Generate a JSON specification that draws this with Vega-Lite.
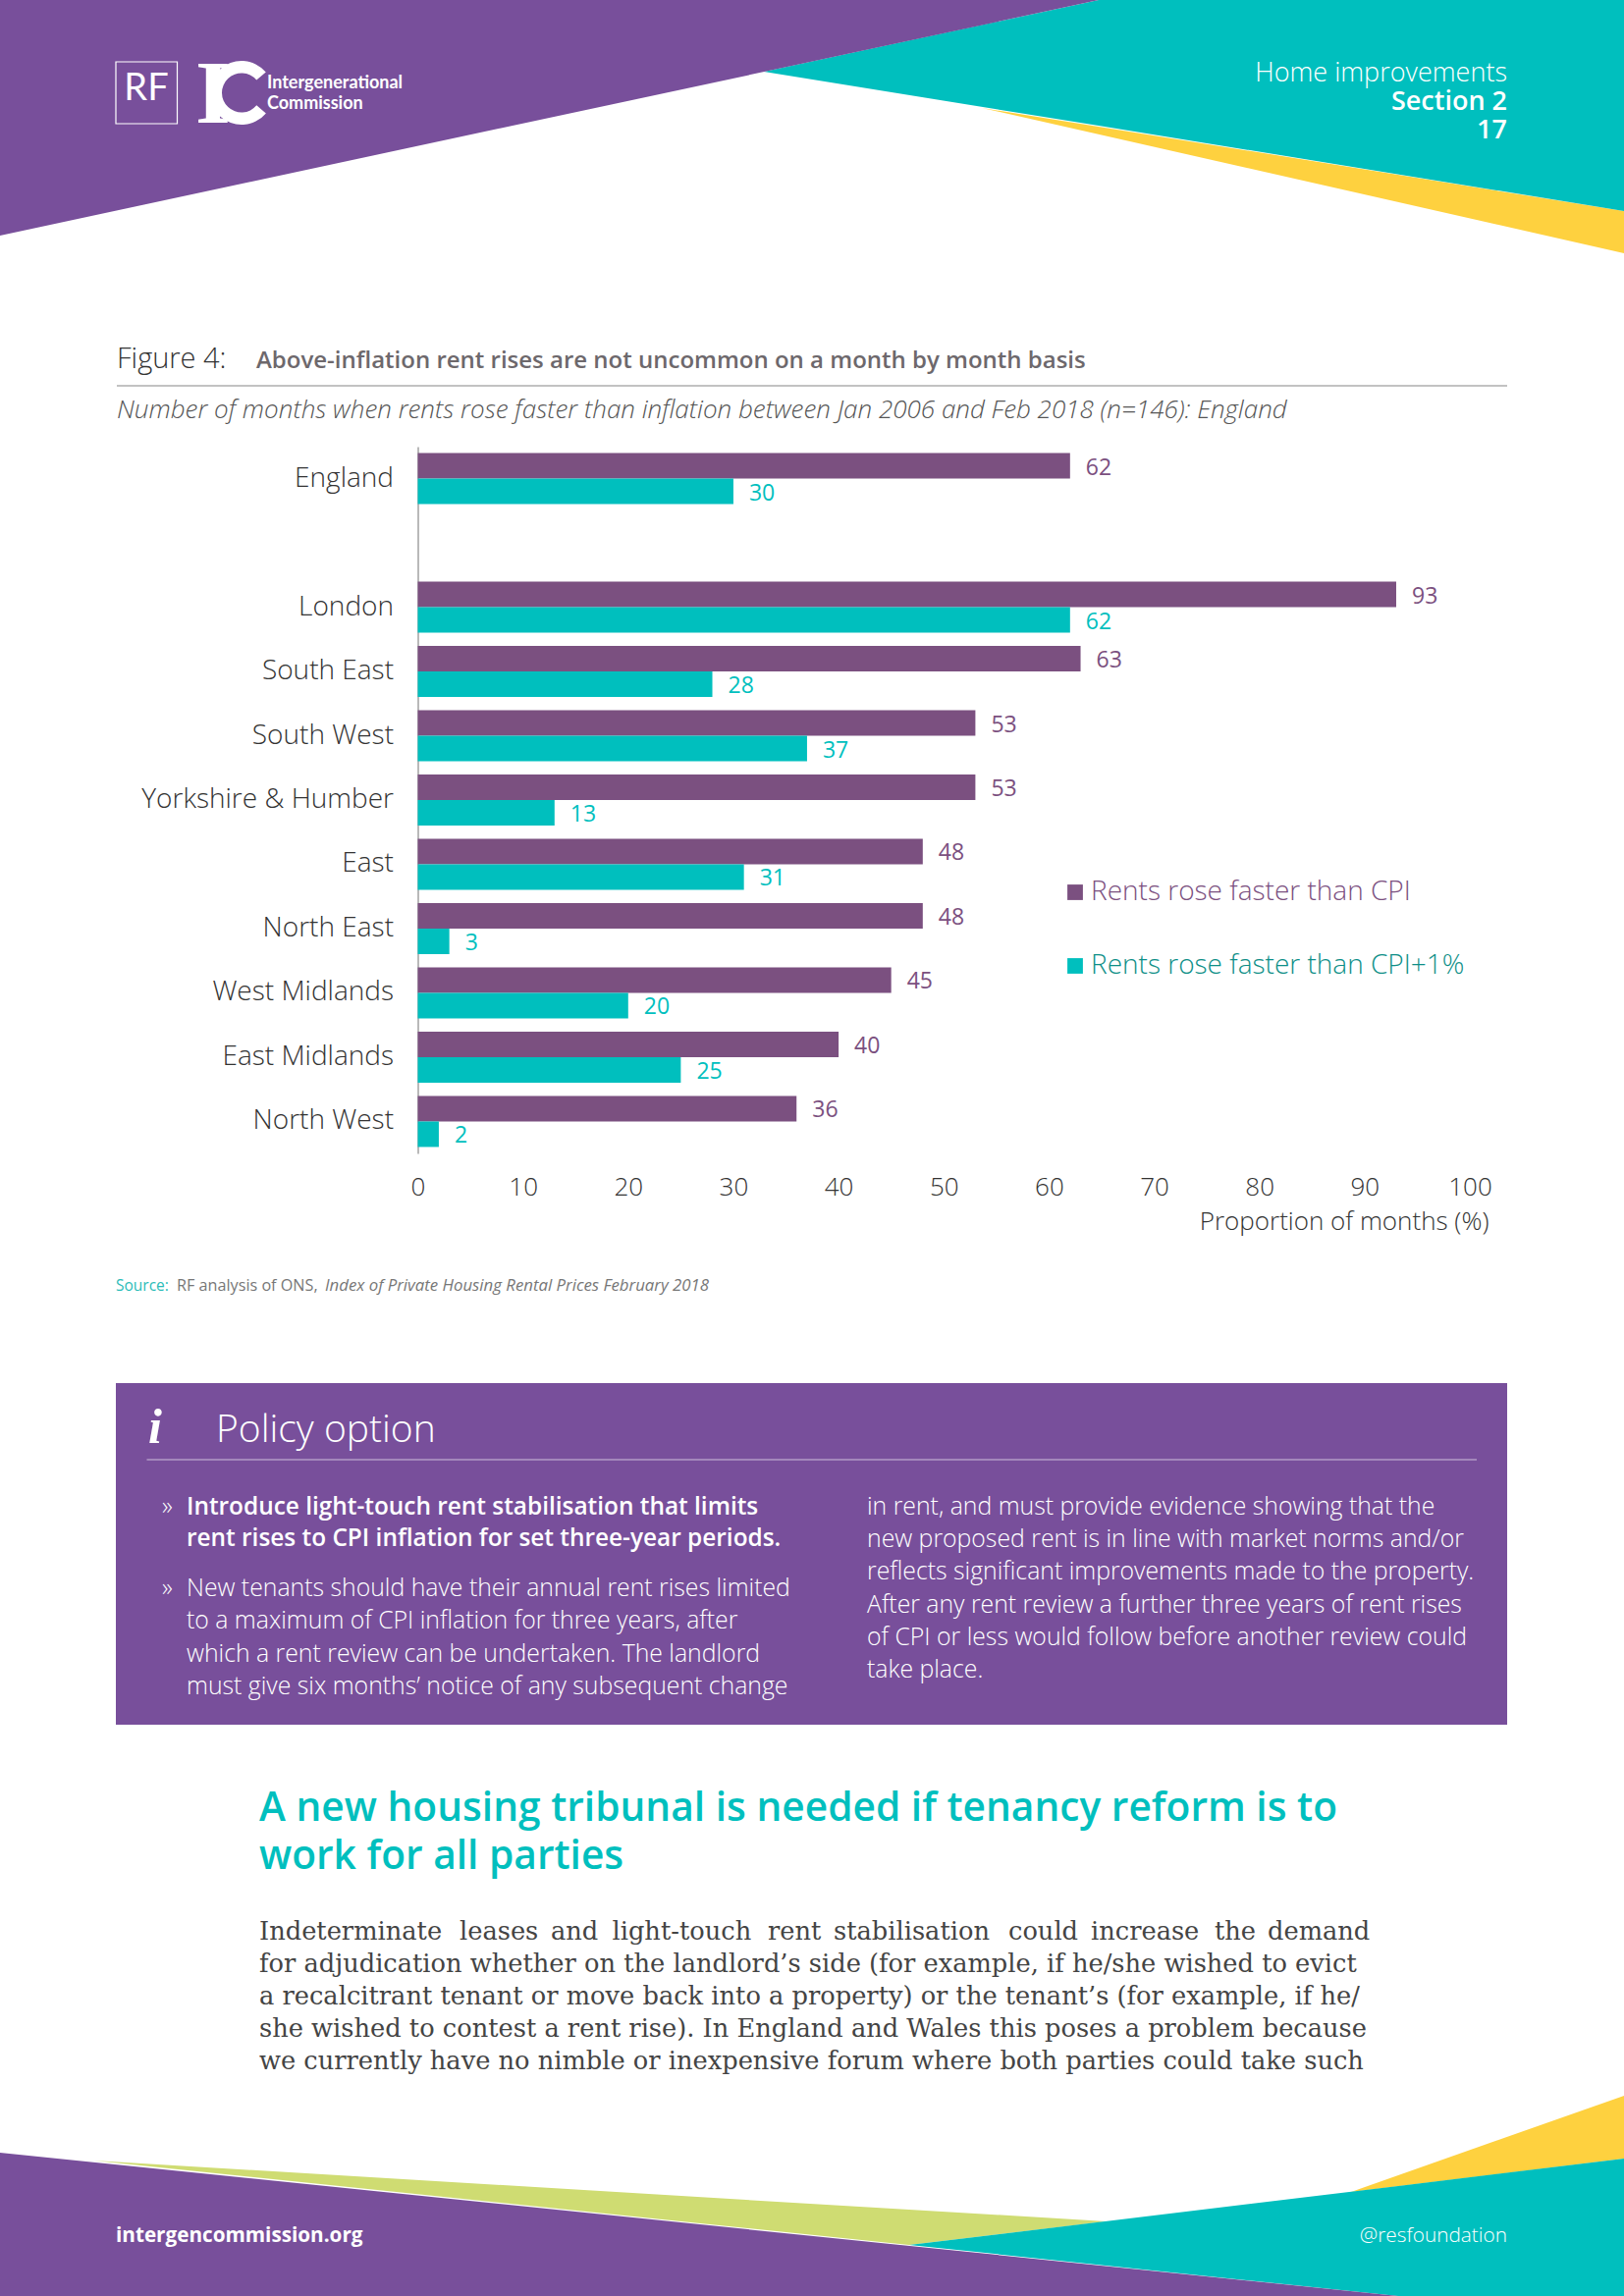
{
"$schema":"https://vega.github.io/schema/vega-lite/v6.json",
"width":1654,"height":2339,"padding":0,"autosize":{"type":"none"},
"background":"#ffffff",
"config":{"view":{"stroke":null}},
"resolve":{"scale":{"x":"independent","y":"independent","color":"independent"},"axis":{"x":"independent","y":"independent"}},
"layer":[
{"encoding":{
 "x":{"field":"px","type":"quantitative","scale":{"domain":[0,1654],"range":[0,1654],"nice":false,"zero":false},"axis":null},
 "y":{"field":"py","type":"quantitative","scale":{"domain":[0,2339],"range":[0,2339],"nice":false,"zero":false},"axis":null}},
 "layer":[
 {"data":{"values":[{"px":1000,"py":110,"py2":110},{"px":1654,"py":215,"py2":258}]},"mark":{"type":"area","color":"#fed13f"},"encoding":{"y2":{"field":"py2"}}},
 {"data":{"values":[{"px":778,"py":73,"py2":73},{"px":1119,"py":0,"py2":128},{"px":1654,"py":0,"py2":215}]},"mark":{"type":"area","color":"#00bfbe"},"encoding":{"y2":{"field":"py2"}}},
 {"data":{"values":[{"px":0,"py":0,"py2":240},{"px":1119,"py":0,"py2":0}]},"mark":{"type":"area","color":"#784f9b"},"encoding":{"y2":{"field":"py2"}}},
 {"data":{"values":[{"px":95,"py":2201,"py2":2201},{"px":926,"py":2251,"py2":2287},{"px":1127,"py":2263,"py2":2263}]},"mark":{"type":"area","color":"#cfdc72"},"encoding":{"y2":{"field":"py2"}}},
 {"data":{"values":[{"px":1376,"py":2233,"py2":2233},{"px":1654,"py":2135,"py2":2199}]},"mark":{"type":"area","color":"#fed13f"},"encoding":{"y2":{"field":"py2"}}},
 {"data":{"values":[{"px":926,"py":2287,"py2":2287},{"px":1424,"py":2227,"py2":2339},{"px":1654,"py":2199,"py2":2339}]},"mark":{"type":"area","color":"#00bfbe"},"encoding":{"y2":{"field":"py2"}}},
 {"data":{"values":[{"px":0,"py":2193,"py2":2339},{"px":1424,"py":2339,"py2":2339}]},"mark":{"type":"area","color":"#784f9b"},"encoding":{"y2":{"field":"py2"}}},
 {"data":{"values":[{"px":118,"py":1409,"px2":1535,"py2":1757}]},"mark":{"type":"rect","color":"#784f9b"},"encoding":{"x2":{"field":"px2"},"y2":{"field":"py2"}}},
 {"data":{"values":[{"px":118,"py":63,"px2":180.5,"py2":126}]},"mark":{"type":"rect","fill":null,"stroke":"#ffffff","strokeWidth":1.2,"filled":false},"encoding":{"x2":{"field":"px2"},"y2":{"field":"py2"}}},
 {"data":{"values":[{"px":119,"py":393,"px2":1535}]},"mark":{"type":"rule","color":"#aeaeae","strokeWidth":1.5},"encoding":{"x2":{"field":"px2"}}},
 {"data":{"values":[{"px":149.5,"py":1487,"px2":1504}]},"mark":{"type":"rule","color":"#cdbfdc","strokeWidth":1.2},"encoding":{"x2":{"field":"px2"}}},
 {"data":{"values":[{"px":149,"py":102,"t":"RF"}]},"mark":{"type":"text","align":"center","baseline":"alphabetic","font":"Lato","fontSize":38,"fontWeight":400,"color":"#ffffff"},"encoding":{"text":{"field":"t"}}},
 {"data":{"values":[{"px":217,"py":125,"t":"I"}]},"mark":{"type":"text","align":"center","baseline":"alphabetic","font":"Liberation Serif","fontSize":92,"fontWeight":700,"color":"#ffffff"},"encoding":{"text":{"field":"t"}}},
 {"data":{"values":[{"px":246,"py":94.5}]},"mark":{"type":"arc","color":"#ffffff","radius":32.5,"radius2":20,"theta":2.27,"theta2":7.15},"encoding":{}},
 {"data":{"values":[{"px":272,"py":90,"t":"Intergenerational"},{"px":272,"py":111,"t":"Commission"}]},"mark":{"type":"text","align":"left","baseline":"alphabetic","font":"Lato","fontSize":18,"fontWeight":700,"color":"#ffffff"},"encoding":{"text":{"field":"t"}}},
 {"data":{"values":[{"px":1535,"py":83,"t":"Home improvements"}]},"mark":{"type":"text","align":"right","baseline":"alphabetic","font":"Open Sans","fontSize":27,"fontWeight":300,"color":"#ffffff"},"encoding":{"text":{"field":"t"}}},
 {"data":{"values":[{"px":1535,"py":112,"t":"Section 2"},{"px":1535,"py":141,"t":"17"}]},"mark":{"type":"text","align":"right","baseline":"alphabetic","font":"Open Sans","fontSize":27,"fontWeight":600,"color":"#ffffff"},"encoding":{"text":{"field":"t"}}},
 {"data":{"values":[{"px":119,"py":375,"t":"Figure 4:"}]},"mark":{"type":"text","align":"left","baseline":"alphabetic","font":"Open Sans","fontSize":29,"fontWeight":300,"color":"#333333"},"encoding":{"text":{"field":"t"}}},
 {"data":{"values":[{"px":261,"py":375,"t":"Above-inflation rent rises are not uncommon on a month by month basis"}]},"mark":{"type":"text","align":"left","baseline":"alphabetic","font":"Open Sans","fontSize":24,"fontWeight":600,"color":"#6d686c"},"encoding":{"text":{"field":"t"}}},
 {"data":{"values":[{"px":119,"py":426,"t":"Number of months when rents rose faster than inflation between Jan 2006 and Feb 2018 (n=146): England"}]},"mark":{"type":"text","align":"left","baseline":"alphabetic","font":"Open Sans","fontSize":26,"fontWeight":300,"fontStyle":"italic","color":"#555555"},"encoding":{"text":{"field":"t"}}},
 {"data":{"values":[{"px":118,"py":1315,"t":"Source:"}]},"mark":{"type":"text","align":"left","baseline":"alphabetic","font":"Open Sans","fontSize":15.5,"fontWeight":400,"color":"#2bbcb8"},"encoding":{"text":{"field":"t"}}},
 {"data":{"values":[{"px":180,"py":1315,"t":"RF analysis of ONS,"}]},"mark":{"type":"text","align":"left","baseline":"alphabetic","font":"Open Sans","fontSize":16.2,"fontWeight":400,"color":"#777777"},"encoding":{"text":{"field":"t"}}},
 {"data":{"values":[{"px":331,"py":1315,"t":"Index of Private Housing Rental Prices February 2018"}]},"mark":{"type":"text","align":"left","baseline":"alphabetic","font":"Open Sans","fontSize":16.8,"fontWeight":400,"fontStyle":"italic","color":"#777777"},"encoding":{"text":{"field":"t"}}},
 {"data":{"values":[{"px":151,"py":1470,"t":"i"}]},"mark":{"type":"text","align":"left","baseline":"alphabetic","font":"Liberation Serif","fontSize":50,"fontWeight":700,"fontStyle":"italic","color":"#ffffff"},"encoding":{"text":{"field":"t"}}},
 {"data":{"values":[{"px":220,"py":1469,"t":"Policy option"}]},"mark":{"type":"text","align":"left","baseline":"alphabetic","font":"Open Sans","fontSize":39,"fontWeight":300,"color":"#ffffff"},"encoding":{"text":{"field":"t"}}},
 {"data":{"values":[{"px":190,"py":1543,"t":"Introduce light-touch rent stabilisation that limits"},{"px":190,"py":1575,"t":"rent rises to CPI inflation for set three-year periods."}]},"mark":{"type":"text","align":"left","baseline":"alphabetic","font":"Open Sans","fontSize":24.4,"fontWeight":600,"color":"#ffffff"},"encoding":{"text":{"field":"t"}}},
 {"data":{"values":[{"px":165,"py":1543,"t":"»"},{"px":165,"py":1626,"t":"»"},{"px":190,"py":1626,"t":"New tenants should have their annual rent rises limited"},{"px":190,"py":1659,"t":"to a maximum of CPI inflation for three years, after"},{"px":190,"py":1693,"t":"which a rent review can be undertaken. The landlord"},{"px":190,"py":1726,"t":"must give six months’ notice of any subsequent change"},{"px":883,"py":1543,"t":"in rent, and must provide evidence showing that the"},{"px":883,"py":1576,"t":"new proposed rent is in line with market norms and/or"},{"px":883,"py":1609,"t":"reflects significant improvements made to the property."},{"px":883,"py":1643,"t":"After any rent review a further three years of rent rises"},{"px":883,"py":1676,"t":"of CPI or less would follow before another review could"},{"px":883,"py":1709,"t":"take place."}]},"mark":{"type":"text","align":"left","baseline":"alphabetic","font":"Open Sans","fontSize":24.8,"fontWeight":300,"color":"#ffffff"},"encoding":{"text":{"field":"t"}}},
 {"data":{"values":[{"px":264,"py":1855,"t":"A new housing tribunal is needed if tenancy reform is to"},{"px":264,"py":1904,"t":"work for all parties"}]},"mark":{"type":"text","align":"left","baseline":"alphabetic","font":"Open Sans","fontSize":40.7,"fontWeight":600,"color":"#00bfbe"},"encoding":{"text":{"field":"t"}}},
 {"data":{"values":[{"px":264,"py":1976,"t":"Indeterminate"},{"px":468,"py":1976,"t":"leases"},{"px":561,"py":1976,"t":"and"},{"px":623.5,"py":1976,"t":"light-touch"},{"px":782,"py":1976,"t":"rent"},{"px":849,"py":1976,"t":"stabilisation"},{"px":1027,"py":1976,"t":"could"},{"px":1111,"py":1976,"t":"increase"},{"px":1237,"py":1976,"t":"the"},{"px":1291,"py":1976,"t":"demand"},{"px":264,"py":2009,"t":"for adjudication whether on the landlord’s side (for example, if he/she wished to evict"},{"px":264,"py":2042,"t":"a recalcitrant tenant or move back into a property) or the tenant’s (for example, if he/"},{"px":264,"py":2075,"t":"she wished to contest a rent rise). In England and Wales this poses a problem because"},{"px":264,"py":2108,"t":"we currently have no nimble or inexpensive forum where both parties could take such"}]},"mark":{"type":"text","align":"left","baseline":"alphabetic","font":"DejaVu Serif","fontSize":25.7,"color":"#444444"},"encoding":{"text":{"field":"t"}}},
 {"data":{"values":[{"px":118,"py":2284,"t":"intergencommission.org"}]},"mark":{"type":"text","align":"left","baseline":"alphabetic","font":"Open Sans","fontSize":20.7,"fontWeight":700,"color":"#ffffff"},"encoding":{"text":{"field":"t"}}},
 {"data":{"values":[{"px":1535,"py":2284,"t":"@resfoundation"}]},"mark":{"type":"text","align":"right","baseline":"alphabetic","font":"Open Sans","fontSize":20.8,"fontWeight":300,"color":"#ffffff"},"encoding":{"text":{"field":"t"}}}
 ]},
{"data":{"values":[
 {"region":"England","series":"Rents rose faster than CPI","months":62},{"region":"England","series":"Rents rose faster than CPI+1%","months":30},
 {"region":"London","series":"Rents rose faster than CPI","months":93},{"region":"London","series":"Rents rose faster than CPI+1%","months":62},
 {"region":"South East","series":"Rents rose faster than CPI","months":63},{"region":"South East","series":"Rents rose faster than CPI+1%","months":28},
 {"region":"South West","series":"Rents rose faster than CPI","months":53},{"region":"South West","series":"Rents rose faster than CPI+1%","months":37},
 {"region":"Yorkshire & Humber","series":"Rents rose faster than CPI","months":53},{"region":"Yorkshire & Humber","series":"Rents rose faster than CPI+1%","months":13},
 {"region":"East","series":"Rents rose faster than CPI","months":48},{"region":"East","series":"Rents rose faster than CPI+1%","months":31},
 {"region":"North East","series":"Rents rose faster than CPI","months":48},{"region":"North East","series":"Rents rose faster than CPI+1%","months":3},
 {"region":"West Midlands","series":"Rents rose faster than CPI","months":45},{"region":"West Midlands","series":"Rents rose faster than CPI+1%","months":20},
 {"region":"East Midlands","series":"Rents rose faster than CPI","months":40},{"region":"East Midlands","series":"Rents rose faster than CPI+1%","months":25},
 {"region":"North West","series":"Rents rose faster than CPI","months":36},{"region":"North West","series":"Rents rose faster than CPI+1%","months":2}
 ]},
 "encoding":{
 "x":{"field":"months","type":"quantitative","scale":{"domain":[0,100],"range":[425.5,1497],"nice":false},
  "axis":{"orient":"bottom","offset":-1164,"values":[0,10,20,30,40,50,60,70,80,90,100],"grid":false,"domain":false,"ticks":false,"labelFont":"Open Sans","labelFontWeight":300,"labelFontSize":26,"labelColor":"#333333","labelPadding":42,"labelBaseline":"alphabetic","labelFlush":false,"labelOverlap":false,
  "title":"Proportion of months (%)","titleFont":"Open Sans","titleFontWeight":300,"titleFontSize":26,"titleColor":"#333333","titleAlign":"right","titleBaseline":"alphabetic","titleX":1516,"titleY":77}},
 "y":{"field":"region","type":"nominal","sort":null,"scale":{"type":"band","domain":["England"," ","London","South East","South West","Yorkshire & Humber","East","North East","West Midlands","East Midlands","North West"],"range":[455,1175],"paddingInner":0.206,"paddingOuter":0.1},
  "axis":{"orient":"left","offset":-425.5,"title":null,"ticks":false,"domainColor":"#8a8a8a","domainWidth":1.2,"grid":false,"labelFont":"Open Sans","labelFontWeight":300,"labelFontSize":28,"labelColor":"#333333","labelPadding":25,"labelOverlap":false,"labelLimit":400}},
 "yOffset":{"field":"series","type":"nominal","sort":["Rents rose faster than CPI","Rents rose faster than CPI+1%"]}
 },
 "layer":[
 {"mark":{"type":"bar"},"encoding":{"color":{"field":"series","type":"nominal","scale":{"domain":["Rents rose faster than CPI","Rents rose faster than CPI+1%"],"range":["#7b5080","#00bfbe"]},
  "legend":{"orient":"none","legendX":1081,"legendY":895,"title":null,"symbolType":"square","symbolSize":250,"symbolStrokeWidth":0,"labelFont":"Open Sans","labelFontWeight":300,"labelFontSize":28,"labelOffset":2,"rowPadding":47,"labelLimit":500,"padding":0,
  "encode":{"labels":{"update":{"fill":{"signal":"datum.value === 'Rents rose faster than CPI' ? '#7b5080' : '#0e8f88'"}}}}}}}},
 {"mark":{"type":"text","align":"left","baseline":"middle","dx":16,"dy":2,"font":"Open Sans","fontSize":23},"encoding":{"text":{"field":"months","type":"quantitative"},"color":{"field":"series","type":"nominal","legend":null}}}
 ]}
]}
